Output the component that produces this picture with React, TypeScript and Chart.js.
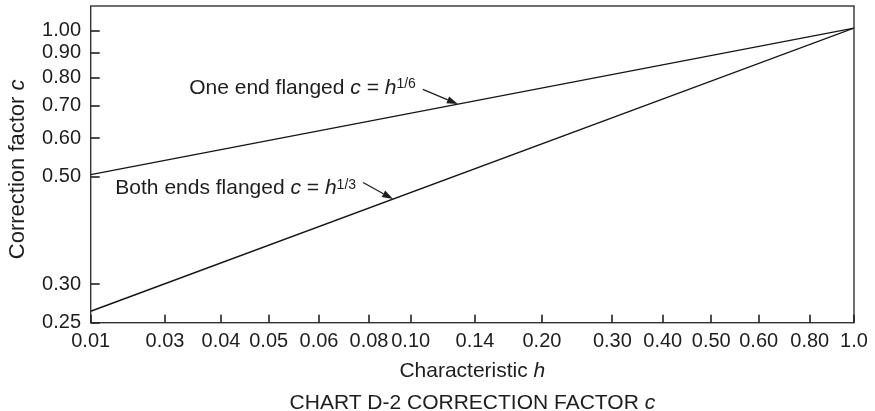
import { useEffect, useRef } from 'react';
import { Chart, LinearScale, registerables } from 'chart.js';

// ---------------- data ----------------
const H_TICKS = [0.01, 0.03, 0.04, 0.05, 0.06, 0.08, 0.1, 0.14, 0.2, 0.3, 0.4, 0.5, 0.6, 0.8, 1.0];
const H_TICK_LABELS = ['0.01', '0.03', '0.04', '0.05', '0.06', '0.08', '0.10', '0.14', '0.20', '0.30', '0.40', '0.50', '0.60', '0.80', '1.0'];
const C_TICKS = [1.0, 0.9, 0.8, 0.7, 0.6, 0.5, 0.3, 0.25];
const H_ENDS = [0.01, 1.0];
const C_ONE_END = [0.505, 1.012];
const C_BOTH_ENDS = [0.264, 1.012];
const SERIES_NAMES = ['One end flanged', 'Both ends flanged'];
const SERIES_EXPONENTS = ['1/6', '1/3'];
const NOTE_AT_H = [0.128, 0.091];

// calibration of the printed (non-uniform) h axis: fraction of axis length at each tick
const H_AXIS_FRAC = [0, 0.0973, 0.1707, 0.2332, 0.2991, 0.3646, 0.4192, 0.5035, 0.5912, 0.6834, 0.7494, 0.813, 0.8751, 0.942, 1];

function hToFrac(h: number): number {
  const L = Math.log(h);
  const n = H_TICKS.length;
  for (let i = 0; i < n - 1; i++) {
    const a = Math.log(H_TICKS[i]);
    const b = Math.log(H_TICKS[i + 1]);
    if (L <= b || i === n - 2) {
      const t = (L - a) / (b - a);
      return H_AXIS_FRAC[i] + t * (H_AXIS_FRAC[i + 1] - H_AXIS_FRAC[i]);
    }
  }
  return 1;
}
function fracToH(f: number): number {
  const n = H_TICKS.length;
  for (let i = 0; i < n - 1; i++) {
    if (f <= H_AXIS_FRAC[i + 1] || i === n - 2) {
      const t = (f - H_AXIS_FRAC[i]) / (H_AXIS_FRAC[i + 1] - H_AXIS_FRAC[i]);
      return Math.exp(Math.log(H_TICKS[i]) + t * (Math.log(H_TICKS[i + 1]) - Math.log(H_TICKS[i])));
    }
  }
  return 1;
}

class PrintedHScale extends LinearScale {
  static id = 'printedH';
  static defaults = {};
  buildTicks() {
    return H_TICKS.map((value) => ({ value }));
  }
  getPixelForValue(value: number) {
    return (this as any).getPixelForDecimal(hToFrac(value));
  }
  getValueForPixel(pixel: number) {
    return fracToH((this as any).getDecimalForPixel(pixel));
  }
}

Chart.register(...registerables, PrintedHScale as any);

const FONT = '"Liberation Sans", Arial, Helvetica, sans-serif';
const INK = '#1e1e1e';

type Run = { text: string; font: string; dy?: number };

function drawRuns(ctx: CanvasRenderingContext2D, runs: Run[], x: number, y: number, align: 'left' | 'center' | 'right') {
  ctx.save();
  ctx.textAlign = 'left';
  ctx.textBaseline = 'alphabetic';
  let total = 0;
  const widths = runs.map((r) => {
    ctx.font = r.font;
    const w = ctx.measureText(r.text).width;
    total += w;
    return w;
  });
  let cx = align === 'left' ? x : align === 'center' ? x - total / 2 : x - total;
  runs.forEach((r, i) => {
    ctx.font = r.font;
    ctx.fillText(r.text, cx, y + (r.dy || 0));
    cx += widths[i];
  });
  ctx.restore();
}

const NOTE_GEOM = [
  { arrowDx: -35, arrowDy: -14.7, textDy: -10.2 },
  { arrowDx: -30, arrowDy: -16.6, textDy: -4.8 },
];

const decorPlugin = {
  id: 'decor',
  afterDraw(chart: any) {
    const ctx: CanvasRenderingContext2D = chart.ctx;
    const a = chart.chartArea;
    const xs = chart.scales.x;
    const ys = chart.scales.y;

    ctx.save();
    // frame
    ctx.strokeStyle = '#333';
    ctx.lineWidth = 1.4;
    ctx.strokeRect(a.left, a.top, a.right - a.left, a.bottom - a.top);

    // inward tick marks, placed by the library's scales (filled bars for crisp rendering)
    ctx.fillStyle = '#222';
    const nx = xs.ticks.length;
    for (let i = 0; i < nx; i++) {
      const px = Math.round(xs.getPixelForTick(i));
      ctx.fillRect(px - 0.8, a.bottom - 8, 1.6, 8);
    }
    const ny = ys.ticks.length;
    for (let i = 0; i < ny; i++) {
      const py = Math.round(ys.getPixelForTick(i));
      ctx.fillRect(a.left, py - 0.8, 9, 1.6);
    }

    ctx.fillStyle = INK;
    const normal = `21px ${FONT}`;
    const italic = `italic 21px ${FONT}`;
    const cx = (a.left + a.right) / 2;
    // x title
    drawRuns(ctx, [{ text: 'Characteristic ', font: normal }, { text: 'h', font: italic }], cx, a.bottom + 54, 'center');
    // caption
    drawRuns(ctx, [{ text: 'CHART D-2 CORRECTION FACTOR ', font: normal }, { text: 'c', font: italic }], cx, a.bottom + 86, 'center');
    // y title
    ctx.save();
    ctx.translate(23.5, (a.top + a.bottom) / 2 + 5);
    ctx.rotate(-Math.PI / 2);
    drawRuns(ctx, [{ text: 'Correction factor ', font: `22px ${FONT}` }, { text: 'c', font: `italic 22px ${FONT}` }], 0, 0, 'center');
    ctx.restore();

    // annotations with arrows
    SERIES_NAMES.forEach((name, i) => {
      const meta = chart.getDatasetMeta(i);
      const p0 = meta.data[0];
      const p1 = meta.data[meta.data.length - 1];
      const tx = xs.getPixelForValue(NOTE_AT_H[i]);
      const ty = p0.y + ((tx - p0.x) / (p1.x - p0.x)) * (p1.y - p0.y);
      const g = NOTE_GEOM[i];
      const sx = tx + g.arrowDx;
      const sy = ty + g.arrowDy;
      ctx.strokeStyle = INK;
      ctx.lineWidth = 1.2;
      const ang = Math.atan2(ty - sy, tx - sx);
      const headLen = 11;
      const headW = 3.6;
      const bx = tx - headLen * Math.cos(ang);
      const by = ty - headLen * Math.sin(ang);
      ctx.beginPath();
      ctx.moveTo(sx, sy);
      ctx.lineTo(bx, by);
      ctx.stroke();
      ctx.beginPath();
      ctx.moveTo(tx, ty);
      ctx.lineTo(bx + headW * Math.sin(ang), by - headW * Math.cos(ang));
      ctx.lineTo(bx - headW * Math.sin(ang), by + headW * Math.cos(ang));
      ctx.closePath();
      ctx.fill();
      drawRuns(
        ctx,
        [
          { text: name + ' ', font: normal },
          { text: 'c', font: italic },
          { text: ' = ', font: normal },
          { text: 'h', font: italic },
          { text: SERIES_EXPONENTS[i], font: `14px ${FONT}`, dy: -5.5 },
        ],
        sx - 7,
        ty + g.textDy,
        'right'
      );
    });
    ctx.restore();
  },
};

export default function App() {
  const ref = useRef<HTMLCanvasElement | null>(null);
  useEffect(() => {
    document.body.style.margin = '0';
    const canvas = ref.current;
    if (!canvas) return;
    const line = (vals: number[]) => ({
      data: H_ENDS.map((h, i) => ({ x: h, y: vals[i] })),
      borderColor: '#151515',
      borderWidth: 1.4,
      pointRadius: 0,
      fill: false,
      tension: 0,
    });
    const chart = new Chart(canvas, {
      type: 'line',
      data: {
        datasets: [
          { label: SERIES_NAMES[0], ...line(C_ONE_END) },
          { label: SERIES_NAMES[1], ...line(C_BOTH_ENDS) },
        ] as any,
      },
      options: {
        animation: false,
        responsive: false,
        events: [],
        layout: { padding: { left: 0, top: 6, right: 21, bottom: 0 } },
        plugins: { legend: { display: false }, tooltip: { enabled: false }, title: { display: false } },
        scales: {
          x: {
            type: 'printedH' as any,
            min: 0.01,
            max: 1.0,
            border: { display: false },
            grid: { display: false },
            ticks: {
              autoSkip: false,
              maxRotation: 0,
              minRotation: 0,
              padding: -1.7,
              color: INK,
              font: { family: FONT, size: 20 },
              callback: (_v: any, i: number) => H_TICK_LABELS[i],
            },
            afterFit: (s: any) => {
              s.height = 88.3;
              s.paddingLeft = 0;
              s.paddingRight = 0;
            },
          } as any,
          y: {
            type: 'logarithmic',
            min: 0.25,
            max: 1.124,
            border: { display: false },
            grid: { display: false },
            afterBuildTicks: (s: any) => {
              s.ticks = C_TICKS.map((value) => ({ value }));
            },
            ticks: {
              autoSkip: false,
              padding: 1.7,
              color: INK,
              font: { family: FONT, size: 20 },
              callback: (v: any) => Number(v).toFixed(2),
            },
            afterFit: (s: any) => {
              s.width = 90.7;
              s.paddingTop = 0;
              s.paddingBottom = 0;
            },
          } as any,
        },
      },
      plugins: [decorPlugin as any],
    });
    return () => chart.destroy();
  }, []);
  return (
    <div style={{ width: 875, height: 411, overflow: 'hidden' }}>
      <canvas ref={ref} width={875} height={411} style={{ display: 'block' }} />
    </div>
  );
}
